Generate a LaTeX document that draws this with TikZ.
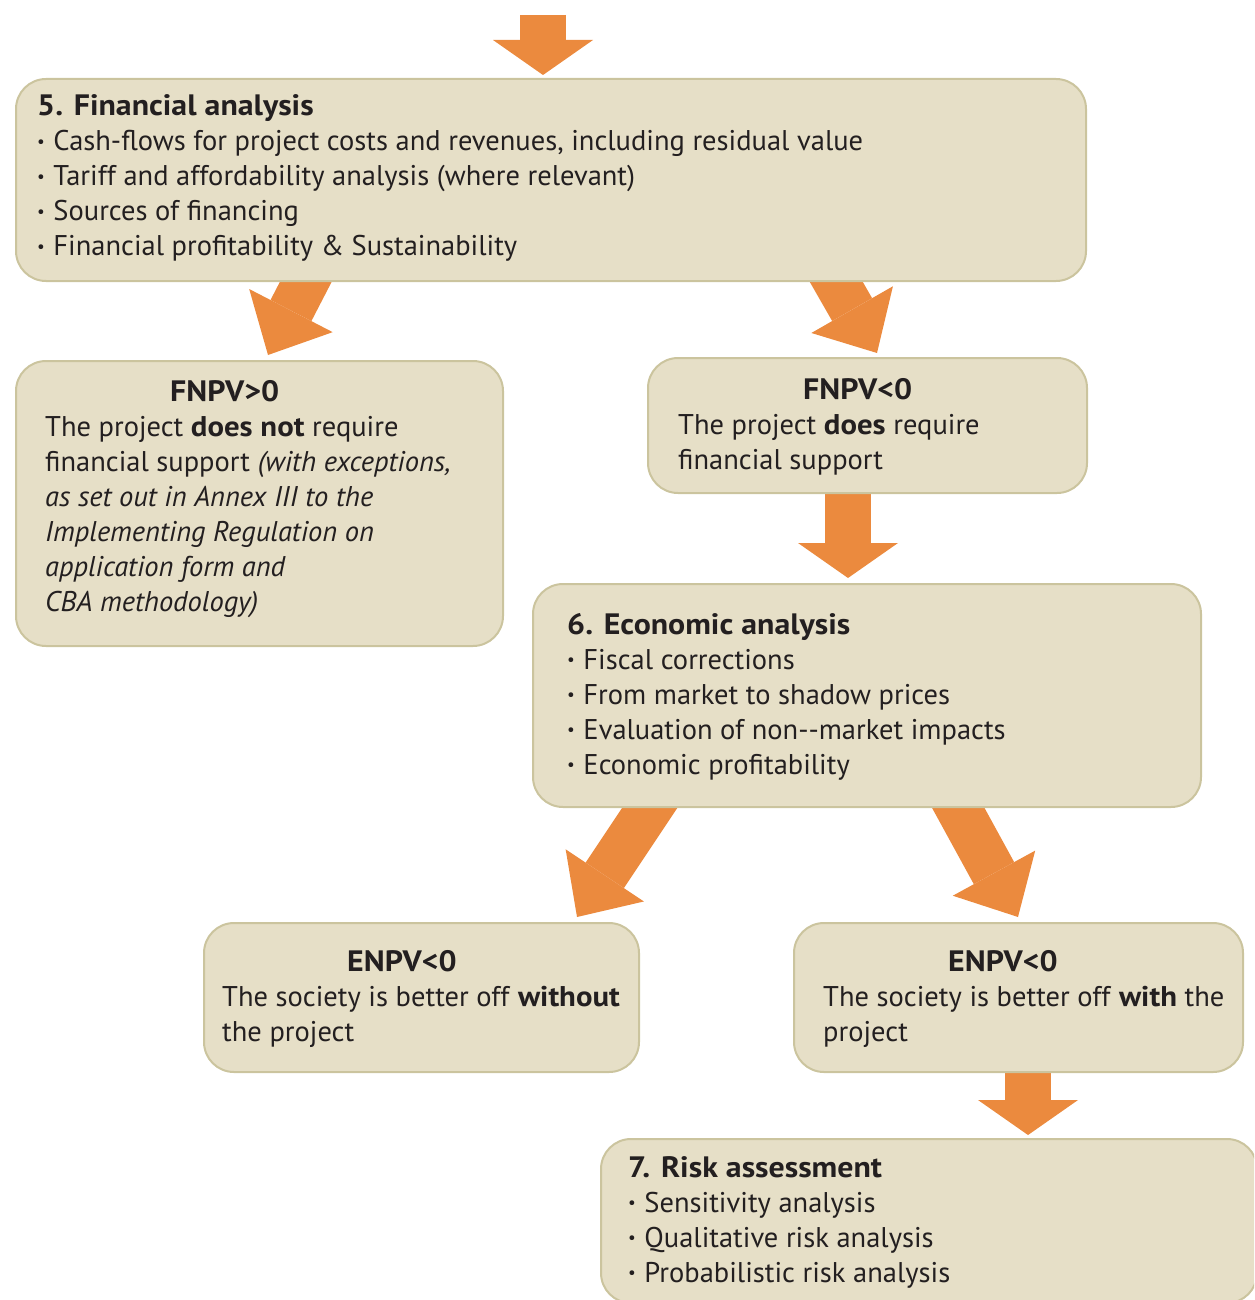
\documentclass[tikz,border=0pt]{standalone}
\usepackage{fontspec}
\setmainfont{PT Sans}[BoldFeatures={FakeStretch=1.08}]
\usetikzlibrary{arrows.meta,calc,backgrounds}

\definecolor{boxfill}{HTML}{E6DFC7}
\definecolor{boxline}{HTML}{CBC49E}
\definecolor{flow}{HTML}{EB8A3E}
\definecolor{ink}{HTML}{231F20}

\tikzset{
  stage/.style={draw=boxline, line width=2pt, fill=boxfill,
    rounded corners=30pt, anchor=north west, inner sep=0pt},
  stagetext/.style={anchor=west, align=left, inner sep=0pt, text=ink,
    font=\fontsize{28.5}{35}\selectfont},
  downflow/.style={flow, line width=46pt,
    -{Triangle[length=35pt, width=100pt, line width=0pt]}},
  sideflow/.style={flow, line width=46pt,
    -{Triangle[length=50pt, width=94pt, line width=0pt]}},
}

% headings and bullets inside the boxes
\newcommand{\stagehead}[1]{{\fontsize{29.5}{35}\selectfont\bfseries #1}}
\newcommand{\headline}[1]{\hspace*{125pt}\stagehead{#1}}
\newcommand{\bul}{\raisebox{0.25ex}{\scalebox{0.6}{\textbullet}}\hspace{0.3em}}

\begin{document}
\begin{tikzpicture}[x=1pt, y=-1pt]
  \useasboundingbox (0,0) rectangle (1254,1300);
  \clip (0,0) rectangle (1254,1300);

  % --- Stage 5 ---
  \node[stage, minimum width=1070pt, minimum height=202pt] (fin) at (15,78) {};
  \node[stagetext] (fin-txt) at ($(fin.west)+(22,-2)$) {%
    \stagehead{5. Financial analysis}\\
    \bul Cash-flows for project costs and revenues, including residual value\\
    \bul Tariff and affordability analysis (where relevant)\\
    \bul Sources of financing\\
    \bul Financial profitability \& Sustainability};

  % --- FNPV outcomes ---
  \node[stage, minimum width=487pt, minimum height=285pt] (fnpvpos) at (15,360) {};
  \node[stagetext] (fnpvpos-txt) at ($(fnpvpos.west)+(30,-4)$) {%
    \headline{FNPV>0}\\
    The project \textbf{does not} require\\
    financial support {\itshape (with exceptions,}\\
    {\itshape as set out in Annex III to the}\\
    {\itshape Implementing Regulation on}\\
    {\itshape application form and}\\
    {\itshape CBA methodology)}};

  \node[stage, minimum width=439pt, minimum height=135pt] (fnpvneg) at (647,357) {};
  \node[stagetext] (fnpvneg-txt) at ($(fnpvneg.west)+(31,1)$) {%
    \headline{FNPV<0}\\
    The project \textbf{does} require\\
    financial support};

  % --- Stage 6 ---
  \node[stage, minimum width=668pt, minimum height=223pt] (econ) at (532,583) {};
  \node[stagetext] (econ-txt) at ($(econ.west)+(35,1)$) {%
    \stagehead{6. Economic analysis}\\
    \bul Fiscal corrections\\
    \bul From market to shadow prices\\
    \bul Evaluation of non-{}-market impacts\\
    \bul Economic profitability};

  % --- ENPV outcomes ---
  \node[stage, minimum width=435pt, minimum height=149pt] (enpvwo) at (203,922) {};
  \node[stagetext] (enpvwo-txt) at ($(enpvwo.west)+(19,1)$) {%
    \headline{ENPV<0}\\
    The society is better off \textbf{without}\\
    the project};

  \node[stage, minimum width=449pt, minimum height=149pt] (enpvwith) at (793,922) {};
  \node[stagetext] (enpvwith-txt) at ($(enpvwith.west)+(30,1)$) {%
    \headline{ENPV<0}\\
    The society is better off \textbf{with} the\\
    project};

  % --- Stage 7 ---
  \node[stage, minimum width=656pt, minimum height=164pt] (risk) at (600,1138) {};
  \node[stagetext] (risk-txt) at ($(risk.west)+(28,1)$) {%
    \stagehead{7. Risk assessment}\\
    \bul Sensitivity analysis\\
    \bul Qualitative risk analysis\\
    \bul Probabilistic risk analysis};

  % Arrows behind the boxes
  \begin{pgfonlayer}{background}
    \coordinate (entry) at (543,15);
    \draw[downflow] (entry) -- ($(fin.north west)+(528,-3)$);
    \draw[sideflow] ($(fin.south west)+(300,-18)$) -- ($(fnpvpos.north west)+(253,-5)$);
    \draw[sideflow] ($(fin.south west)+(811,-18)$) -- ($(fnpvneg.north west)+(230,-4)$);
    \draw[downflow] ($(fnpvneg.south west)+(201,-12)$) -- ($(econ.north west)+(316,-5)$);
    \draw[sideflow] ($(econ.south west)+(129,-17)$) -- ($(enpvwo.north west)+(374,-5)$);
    \draw[sideflow] ($(econ.south west)+(417,-17)$) -- ($(enpvwith.north west)+(225,-5)$);
    \draw[downflow] ($(enpvwith.south west)+(235,-11)$) -- ($(risk.north west)+(428,-3)$);
  \end{pgfonlayer}
\end{tikzpicture}
\end{document}
